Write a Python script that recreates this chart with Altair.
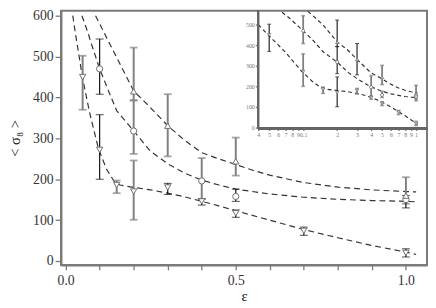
import altair as alt
import pandas as pd

# ---------------- data ----------------
DOWN_X = [0.05, 0.1, 0.15, 0.2, 0.3, 0.4, 0.5, 0.7, 1.0]
DOWN_Y = [450, 272, 186, 170, 180, 146, 117, 74, 20]
DOWN_LO = [370, 200, 166, 101, 163, 137, 107, 63, 10]
DOWN_HI = [502, 358, 197, 246, 190, 152, 125, 83, 30]

CIRC_X = [0.1, 0.2, 0.4, 0.5, 1.0]
CIRC_Y = [470, 318, 196, 158, 150]
CIRC_LO = [408, 262, 152, 146, 130]
CIRC_HI = [543, 393, 252, 176, 160]

UP_X = [0.2, 0.3, 0.5, 1.0]
UP_Y = [415, 331, 244, 160]
UP_LO = [393, 256, 209, 140]
UP_HI = [522, 408, 302, 205]

FIT1_X = [0.021, 0.03, 0.04, 0.048, 0.07, 0.096, 0.12, 0.144, 0.16, 0.2, 0.25, 0.3,
          0.35, 0.4, 0.45, 0.5, 0.6, 0.7, 0.8, 0.9, 1.0, 1.03]
FIT1_Y = [600, 550, 500, 455, 365, 276, 225, 193, 186, 180, 174, 166,
          157, 146, 135, 123, 100, 77, 57, 38, 22, 16]
FIT2_X = [0.048, 0.065, 0.075, 0.1, 0.125, 0.15, 0.2, 0.25, 0.3, 0.35, 0.4, 0.45,
          0.5, 0.6, 0.7, 0.8, 0.9, 1.0, 1.03]
FIT2_Y = [600, 560, 533, 470, 418, 368, 318, 268, 238, 215, 198, 186,
          176, 164, 156, 151, 148, 146, 145]
FIT3_X = [0.088, 0.11, 0.12, 0.15, 0.2, 0.245, 0.3, 0.35, 0.4, 0.45, 0.5, 0.55,
          0.6, 0.7, 0.8, 0.9, 1.0, 1.03]
FIT3_Y = [600, 564, 547, 498, 416, 379, 331, 295, 265, 250, 236, 222,
          210, 192, 181, 174, 170, 169]

SERIES = ["down", "circle", "up"]
SHAPES = ["triangle-down", "circle", "triangle-up"]

# inset frame (domain corners of the inset scales)
INSET_X_DOMAIN = [0.04, 1.25]
INSET_Y_DOMAIN = [-4.7, 567]

# error-bar tone (style, kept apart from the data)
MAIN_GRAY = {("down", 0.05), ("down", 0.15), ("down", 0.2), ("circle", 0.2),
             ("circle", 0.4), ("up", 0.2), ("up", 0.3), ("up", 0.5), ("up", 1.0)}
INSET_DARK = {("down", 0.05), ("down", 0.2), ("circle", 0.2), ("up", 0.2), ("up", 0.3)}

rows = []
for name, xs, ys, los, his in [("down", DOWN_X, DOWN_Y, DOWN_LO, DOWN_HI),
                               ("circle", CIRC_X, CIRC_Y, CIRC_LO, CIRC_HI),
                               ("up", UP_X, UP_Y, UP_LO, UP_HI)]:
    for x, y, lo, hi in zip(xs, ys, los, his):
        rows.append(dict(series=name, x=x, y=y, lo=lo, hi=hi,
                         mtone="gray" if (name, x) in MAIN_GRAY else "dark",
                         itone="dark" if (name, x) in INSET_DARK else "gray"))
pts = pd.DataFrame(rows)

fit_rows = []
for cname, xs, ys in [("f1", FIT1_X, FIT1_Y), ("f2", FIT2_X, FIT2_Y), ("f3", FIT3_X, FIT3_Y)]:
    for x, y in zip(xs, ys):
        fit_rows.append(dict(curve=cname, x=x, y=y))
fits = pd.DataFrame(fit_rows)

SERIF = "Liberation Serif, Times New Roman, DejaVu Serif, serif"
GRAY = "#808080"
DARK = "#111111"
AXC = "#7a7a7a"

shape_enc = alt.Shape("series:N", scale=alt.Scale(domain=SERIES, range=SHAPES), legend=None)

# ---------------- main plot scales/axes ----------------
MX_SCALE = alt.Scale(domain=[-0.0136, 1.062], nice=False, zero=False)
MX_AXIS = alt.Axis(values=[0, 0.1, 0.2, 0.3, 0.4, 0.5, 0.6, 0.7, 0.8, 0.9, 1.0],
                   labelExpr="abs(datum.value % 0.5) < 1e-9 ? format(datum.value, '.1f') : ''",
                   title="ε", tickSize=5, labelPadding=4, titlePadding=1)
MY_SCALE = alt.Scale(domain=[-9.5, 612], nice=False, zero=False)
MY_AXIS = alt.Axis(values=[0, 100, 200, 300, 400, 500, 600], title="< σ₈ >",
                   tickSize=6, labelPadding=2, titlePadding=10)

# ---------------- inset scales/axes ----------------
IX_SCALE = alt.Scale(type="log", domain=INSET_X_DOMAIN, range=[201, 373], nice=False)
IX_AXIS = alt.Axis(orient="bottom", offset=-139,
                   values=[0.04, 0.05, 0.06, 0.07, 0.08, 0.09, 0.1, 0.2, 0.3, 0.4, 0.5,
                           0.6, 0.7, 0.8, 0.9, 1.0],
                   labelExpr="datum.value < 0.095 ? format(datum.value * 100, 'd') : "
                             "datum.value < 0.15 ? '0.1' : datum.value < 0.95 ? "
                             "format(datum.value * 10, 'd') : '1'",
                   title=None, tickSize=2, labelFontSize=6, labelPadding=1,
                   labelColor="#777", domain=True, domainColor="#666", domainWidth=1.5,
                   labelFlush=False, labelOverlap=False)
IY_SCALE = alt.Scale(domain=INSET_Y_DOMAIN, range=[120, 0], nice=False, zero=False)
IY_AXIS = alt.Axis(orient="left", offset=-201, values=[0, 100, 200, 300, 400, 500],
                   title=None, tickSize=3, labelFontSize=6, labelPadding=1,
                   labelColor="#777", domain=True, domainColor="#666", domainWidth=1.5)

base_pts = alt.Chart(pts)


def layers(xs, xa, ys, ya, tonefield, gray_w, dark_w, cap, msize, mstroke, dash, filt=None, frame=False):
    xe = alt.X("x:Q", scale=xs, axis=xa)
    fit = alt.Chart(fits).mark_line(strokeDash=dash, color="#333", strokeWidth=1.2).encode(
        x=xe, y=alt.Y("y:Q", scale=ys, axis=ya), detail="curve:N", order="x:Q")
    if filt is not None:
        fit = fit.transform_filter(filt)
    out = [fit]
    if frame:
        out.append(alt.Chart(pts).mark_rule(color="#666", strokeWidth=1.5).encode(
            x=alt.X(datum=INSET_X_DOMAIN[0], scale=xs, axis=xa),
            y=alt.Y(datum=INSET_Y_DOMAIN[0], scale=ys, axis=ya),
            y2=alt.Y2(datum=INSET_Y_DOMAIN[1])))
        out.append(alt.Chart(pts).mark_rule(color="#666", strokeWidth=1.5).encode(
            x=alt.X(datum=INSET_X_DOMAIN[0], scale=xs, axis=xa),
            x2=alt.X2(datum=INSET_X_DOMAIN[1]),
            y=alt.Y(datum=INSET_Y_DOMAIN[0], scale=ys, axis=ya)))
    for tone, color, w in [("gray", GRAY, gray_w), ("dark", DARK, dark_w)]:
        f = alt.datum[tonefield] == tone
        out.append(base_pts.mark_rule(color=color, strokeWidth=w).encode(
            x=xe, y=alt.Y("lo:Q", scale=ys, axis=ya), y2="hi:Q").transform_filter(f))
        for fld in ["lo", "hi"]:
            out.append(base_pts.mark_tick(orient="horizontal", size=cap, thickness=w * 0.9,
                                          color=color).encode(
                x=xe, y=alt.Y(f"{fld}:Q", scale=ys, axis=ya)).transform_filter(f))
    out.append(base_pts.mark_point(filled=True, fill="white", stroke="#6e6e6e", strokeWidth=mstroke,
                                   size=msize, opacity=1).encode(
        x=xe, y=alt.Y("y:Q", scale=ys, axis=ya), shape=shape_enc))
    return alt.layer(*out)


main = layers(MX_SCALE, MX_AXIS, MY_SCALE, MY_AXIS, "mtone", 2, 1.2, 8, 40, 1, [6, 4])
inset = layers(IX_SCALE, IX_AXIS, IY_SCALE, IY_AXIS, "itone", 1.8, 1.1, 4, 10, 0.8, [4, 3],
               filt=(alt.datum.x >= 0.04) & (alt.datum.y <= 566), frame=True)

chart = alt.layer(main, inset).resolve_scale(x="independent", y="independent").properties(
    width=373, height=259,
    autosize=alt.AutoSizeParams(type="none"),
    padding={"left": 54, "top": 0, "right": 1, "bottom": 40},
).configure_view(stroke=AXC, strokeWidth=2).configure_axis(
    grid=False, domainColor=AXC, domainWidth=2, tickColor=AXC, tickWidth=1.3,
    labelFont=SERIF, labelFontSize=14, labelColor="#333",
    titleFont=SERIF, titleFontSize=15, titleFontWeight="normal", titleColor="#222"
)

chart.save("out.html", embed_options={"renderer": "svg", "actions": False})
